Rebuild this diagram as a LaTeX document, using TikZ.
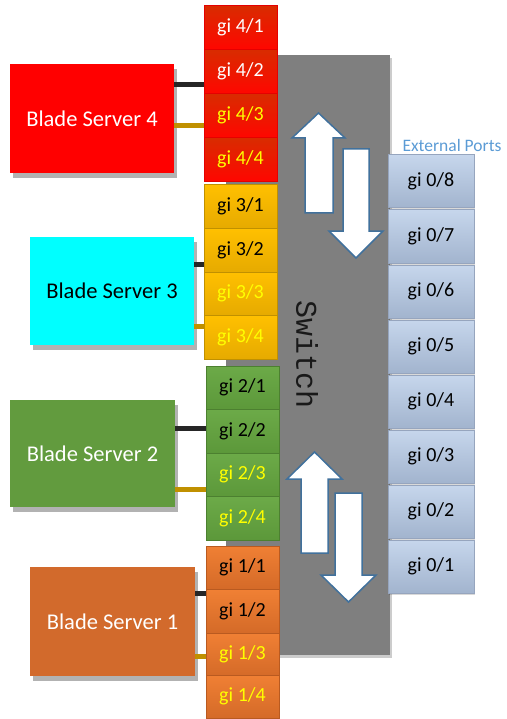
\documentclass[tikz,border=0pt]{standalone}
\usepackage{fontspec}
\setmainfont{Carlito}
\newfontfamily\swfont{Liberation Mono}
\usetikzlibrary{shadows}
\definecolor{bsred}{HTML}{FF0000}
\definecolor{bscyan}{HTML}{00FFFF}
\definecolor{bsgreen}{HTML}{629B3E}
\definecolor{bsorange}{HTML}{D26A2C}
\definecolor{swgray}{HTML}{7F7F7F}
\definecolor{linkblack}{HTML}{262626}
\definecolor{linkgold}{HTML}{C09000}
\definecolor{portyellow}{HTML}{FFFF00}
\definecolor{extblue}{HTML}{5B9BD5}
\definecolor{arrowedge}{HTML}{41719C}
\tikzset{
  x=1pt, y=-1pt,
  blade/.style={rectangle, inner sep=0pt, outer sep=0pt, anchor=north west,
    font=\fontsize{22.5}{26}\selectfont, text=white,
    drop shadow={shadow xshift=3pt, shadow yshift=-5pt, fill=black, opacity=0.3}},
  port/.style={rectangle, inner sep=0pt, outer sep=0pt, anchor=north west,
    minimum width=73pt, minimum height=43.5pt, line width=1pt,
    font=\fontsize{20}{22}\selectfont},
  pfour/.style={port, draw=red!90!black, top color=red!60!orange!85!black, bottom color=red!95!orange},
  pthree/.style={port, draw=linkgold, top color={rgb,255:red,255;green,192;blue,0}, bottom color={rgb,255:red,230;green,170;blue,0}},
  ptwo/.style={port, draw={rgb,255:red,76;green,128;blue,48}, top color={rgb,255:red,108;green,170;blue,72}, bottom color={rgb,255:red,92;green,152;blue,58}},
  pone/.style={port, draw={rgb,255:red,185;green,90;blue,32}, top color={rgb,255:red,240;green,128;blue,52}, bottom color={rgb,255:red,212;green,106;blue,40}},
  extport/.style={port, minimum width=86pt, minimum height=53pt,
    draw={rgb,255:red,150;green,165;blue,190}, top color={rgb,255:red,198;green,214;blue,236}, bottom color={rgb,255:red,162;green,180;blue,206},
    drop shadow={shadow xshift=1pt, shadow yshift=-1.5pt, fill=black, opacity=0.15}},
  blk/.style={draw=linkblack, line width=5pt},
  gld/.style={draw=linkgold, line width=5pt},
  bigarrow/.style={fill=white, draw=arrowedge, line width=1.5pt, line join=miter}
}
\begin{document}
\begin{tikzpicture}
\useasboundingbox (0,0) rectangle (506,719);

% switch body
\fill[swgray, drop shadow={shadow xshift=2pt, shadow yshift=-3pt, fill=black, opacity=0.2}] (226,55) rectangle (390,655);
\node[rotate=-90, font=\swfont\fontsize{30}{32}\selectfont, text=black!90] (sw) at (307,355) {Switch};

% arrows (top pair)
\draw[bigarrow] (318.5,113) -- (345,138) -- (333,138) -- (333,213) -- (305,213) -- (305,138) -- (292,138) -- cycle;
\draw[bigarrow] (356,258) -- (383,231) -- (369,231) -- (369,149) -- (343,149) -- (343,231) -- (329,231) -- cycle;
% arrows (bottom pair)
\draw[bigarrow] (314.5,452) -- (342,479) -- (328,479) -- (328,553) -- (301,553) -- (301,479) -- (287,479) -- cycle;
\draw[bigarrow] (348.5,602) -- (376,575) -- (362,575) -- (362,493) -- (335,493) -- (335,575) -- (321,575) -- cycle;

% blade servers
\node[blade, fill=bsred, minimum width=164pt, minimum height=109pt] (b4) at (10,64) {Blade Server 4};
\node[blade, fill=bscyan, text=black, minimum width=164pt, minimum height=108pt] (b3) at (30,237) {Blade Server 3};
\node[blade, fill=bsgreen, minimum width=165pt, minimum height=107pt] (b2) at (10,400) {Blade Server 2};
\node[blade, fill=bsorange, minimum width=165pt, minimum height=109pt] (b1) at (30,567) {Blade Server 1};

% ports group 4
\node[pfour, text=white] (p41) at (204,6) {gi 4/1};
\node[pfour, text=white] (p42) at (204,50) {gi 4/2};
\node[pfour, text=portyellow] (p43) at (204,94) {gi 4/3};
\node[pfour, text=portyellow] (p44) at (204,138) {gi 4/4};
% ports group 3
\node[pthree, text=black] (p31) at (204,185) {gi 3/1};
\node[pthree, text=black] (p32) at (204,228.5) {gi 3/2};
\node[pthree, text=portyellow] (p33) at (204,272) {gi 3/3};
\node[pthree, text=portyellow] (p34) at (204,315.5) {gi 3/4};
% ports group 2
\node[ptwo, text=black] (p21) at (206,366) {gi 2/1};
\node[ptwo, text=black] (p22) at (206,409.5) {gi 2/2};
\node[ptwo, text=portyellow] (p23) at (206,453) {gi 2/3};
\node[ptwo, text=portyellow] (p24) at (206,496.5) {gi 2/4};
% ports group 1
\node[pone, text=black] (p11) at (206,546) {gi 1/1};
\node[pone, text=black] (p12) at (206,589.5) {gi 1/2};
\node[pone, text=portyellow] (p13) at (206,633) {gi 1/3};
\node[pone, text=portyellow] (p14) at (206,675) {gi 1/4};

% links
\draw[blk] (b4.east |- 0,85) -- (p42.west |- 0,85);
\draw[gld] (b4.east |- 0,126) -- (p43.west |- 0,126);
\draw[blk] (b3.east |- 0,264) -- (p32.west |- 0,264);
\draw[gld] (b3.east |- 0,326) -- (p34.west |- 0,326);
\draw[blk] (b2.east |- 0,428) -- (p22.west |- 0,428);
\draw[gld] (b2.east |- 0,489) -- (p23.west |- 0,489);
\draw[blk] (b1.east |- 0,593) -- (p12.west |- 0,593);
\draw[gld] (b1.east |- 0,656) -- (p13.west |- 0,656);

% external ports
\node[font=\fontsize{17.5}{20}\selectfont, text=extblue] (extlbl) at (452,145) {External Ports};
\node[extport] (e8) at (388,155) {gi 0/8};
\node[extport] (e7) at (388,210) {gi 0/7};
\node[extport] (e6) at (388,265) {gi 0/6};
\node[extport] (e5) at (388,320) {gi 0/5};
\node[extport] (e4) at (388,375) {gi 0/4};
\node[extport] (e3) at (388,430) {gi 0/3};
\node[extport] (e2) at (388,485) {gi 0/2};
\node[extport] (e1) at (388,540) {gi 0/1};
\end{tikzpicture}
\end{document}
